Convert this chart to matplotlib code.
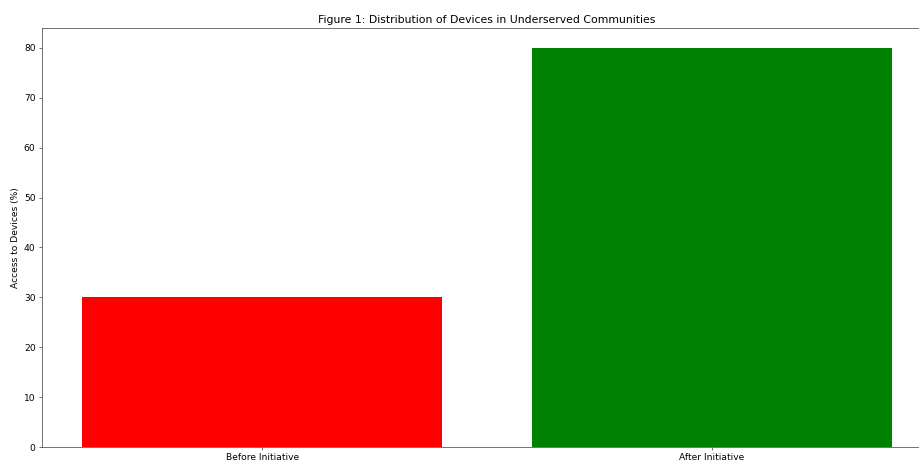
import matplotlib
matplotlib.use("Agg")
import matplotlib.pyplot as plt

categories = ["Before Initiative", "After Initiative"]
access_pct = [30, 80]
bar_colors = ["red", "green"]

s = 0.656
plt.rcParams.update({
    "font.family": "DejaVu Sans",
    "font.size": 10 * s,
    "axes.linewidth": 0.8 * s,
    "axes.edgecolor": "#444444",
    "xtick.color": "#444444",
    "ytick.color": "#444444",
    "xtick.labelcolor": "black",
    "ytick.labelcolor": "black",
    "xtick.major.width": 0.8 * s,
    "ytick.major.width": 0.8 * s,
    "xtick.major.size": 3.5 * s,
    "ytick.major.size": 3.5 * s,
    "xtick.major.pad": 3.5 * s,
    "ytick.major.pad": 3.5 * s,
})

fig = plt.figure(figsize=(9.2, 4.61), dpi=100)
W, H = 920, 461
left, right, top, bottom = 42, 932, 28, 447
ax = fig.add_axes([left / W, 1 - bottom / H, (right - left) / W, (bottom - top) / H])
ax.bar(categories, access_pct, color=bar_colors)
ax.set_ylabel("Access to Devices (%)", labelpad=4 * s)
ax.set_title("Figure 1: Distribution of Devices in Underserved Communities", fontsize=12 * s, pad=6 * s)
fig.savefig("out.png", dpi=100)
